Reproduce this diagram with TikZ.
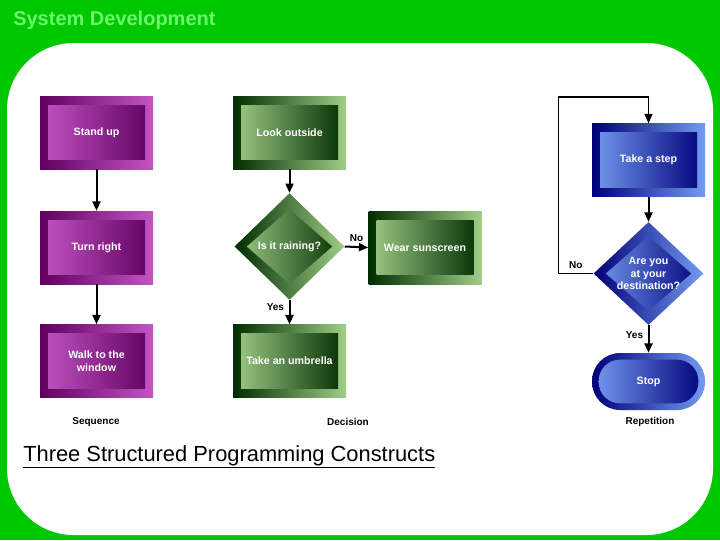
\documentclass[tikz,border=0pt]{standalone}
\usepackage{fontspec}
\setmainfont{Liberation Sans}
\usetikzlibrary{arrows.meta, shapes}
\definecolor{bggreen}{RGB}{0,200,0}
\definecolor{titlegreen}{RGB}{110,245,110}
\definecolor{purpdark}{RGB}{95,0,95}
\definecolor{purpmid}{RGB}{150,0,150}
\definecolor{purplight}{RGB}{195,85,195}
\definecolor{grndark}{RGB}{0,45,0}
\definecolor{grnmid}{RGB}{0,115,0}
\definecolor{grnlight}{RGB}{160,205,135}
\definecolor{bludark}{RGB}{0,0,120}
\definecolor{blumid}{RGB}{0,40,185}
\definecolor{blulight}{RGB}{115,155,240}

\tikzset{
  lbl/.style={font=\fontsize{7.5}{9}\selectfont\bfseries},
  boxtext/.style={font=\fontsize{8}{9.5}\selectfont\bfseries, text=white, align=center},
  box/.style={rectangle, minimum width=84.75pt, minimum height=54.75pt, inner sep=1pt,
    boxtext,
    left color=#1dark, middle color=#1mid, right color=#1light,
    path picture={\shade[left color=#1light, middle color=#1mid, right color=#1dark]
      ([shift={(6pt,7pt)}]path picture bounding box.south west) rectangle
      ([shift={(-6pt,-7pt)}]path picture bounding box.north east);}},
  test/.style 2 args={diamond, minimum width=82.5pt, minimum height=#2, inner sep=0pt,
    boxtext,
    left color=#1dark, middle color=#1mid, right color=#1light,
    path picture={\shade[left color=#1light, middle color=#1mid, right color=#1dark]
      ([xshift=-32pt]path picture bounding box.center) --
      ([yshift=28pt]path picture bounding box.center) --
      ([xshift=32pt]path picture bounding box.center) --
      ([yshift=-28pt]path picture bounding box.center) -- cycle;}},
  pill/.style={rectangle, rounded corners=21pt, minimum width=84.75pt, minimum height=42.75pt,
    boxtext,
    left color=#1dark, middle color=#1mid, right color=#1light,
    path picture={\shade[rounded corners=16pt, left color=#1light, middle color=#1mid, right color=#1dark]
      ([shift={(5pt,5pt)}]path picture bounding box.south west) rectangle
      ([shift={(-5pt,-5pt)}]path picture bounding box.north east);}},
  flow/.style={line width=1.5pt, -{Triangle[length=7pt,width=6pt]}},
  loopline/.style={line width=0.8pt, -{Triangle[length=7pt,width=6pt]}}
}

\begin{document}
\begin{tikzpicture}[x=0.75pt, y=-0.75pt]
  \useasboundingbox (0,0) rectangle (720,540);
  \fill[bggreen] (0,0) rectangle (720,540);
  \fill[white, rounded corners=50pt] (7,43) rectangle (713,535);

  \node[anchor=base west, inner sep=0pt, text=titlegreen, font=\fontsize{15}{18}\selectfont\bfseries]
    (title) at (13,25) {System Development};

  % sequence
  \node[box=purp] (standup) at (96.5,132.5) {Stand up};
  \node[box=purp] (turn) at (96.5,247.5) {Turn right};
  \node[box=purp] (walk) at (96.5,361) {Walk to the\\window};
  \draw[flow] (standup) -- (turn);
  \draw[flow] (turn) -- (walk);
  \node[lbl] (seqcap) at (96,422) {Sequence};

  % decision
  \node[box=grn] (look) at (289.5,132.5) {Look outside};
  \node[test={grn}{80pt}] (rain) at (289.5,246.5) {Is it raining?};
  \node[box=grn] (sun) at (425,247.5) {Wear sunscreen};
  \node[box=grn] (umbrella) at (289.5,361) {Take an umbrella};
  \draw[flow] (look) -- (rain);
  \draw[flow] (rain.east) -- node[lbl, above] {No} (sun.west);
  \draw[flow] (rain.south) -- node[lbl, left, pos=0.3] {Yes} (umbrella.north);
  \node[lbl] (deccap) at (348,422) {Decision};

  % repetition
  \coordinate (looptop) at (648.5,97);
  \node[box=blu] (step) at (648.5,160) {Take a step};
  \node[test={blu}{77.25pt}] (dest) at (648.5,273.5) {Are you\\at your\\destination?};
  \node[pill=blu] (stop) at (648.5,381.5) {Stop};
  \draw[flow] (step) -- (dest);
  \draw[flow] (dest.south) -- node[lbl, left, pos=0.35] {Yes} (stop.north);
  \draw[loopline] (dest.west) -- node[lbl, above] {No} ++(-35,0) |- (looptop) -- (step.north);
  \node[lbl] (repcap) at (650,422) {Repetition};

  \node[anchor=base west, inner sep=0pt, font=\fontsize{16.4}{19}\selectfont]
    (caption) at (23,461) {\underline{Three Structured Programming Constructs}};
\end{tikzpicture}
\end{document}
